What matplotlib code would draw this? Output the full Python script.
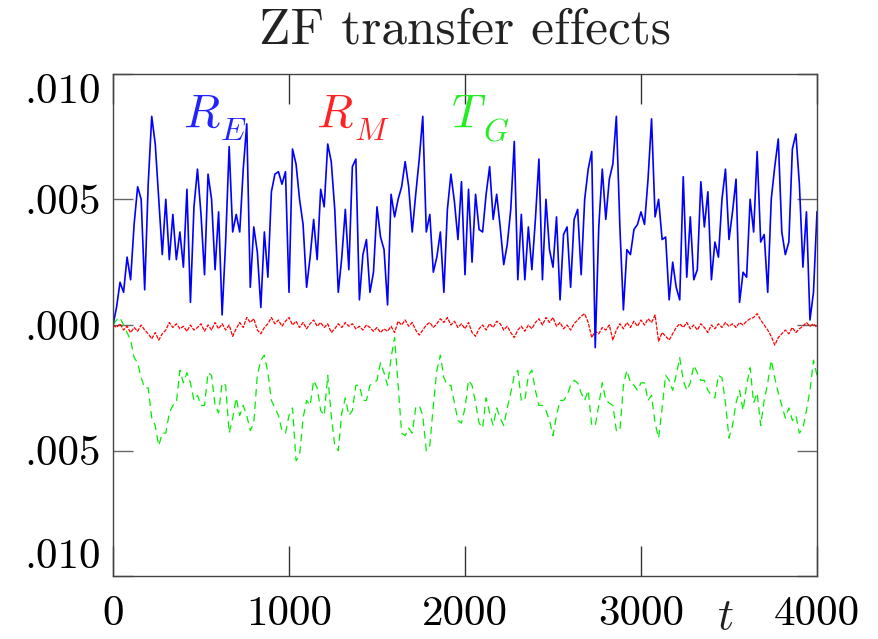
import numpy as np
import matplotlib
matplotlib.use("Agg")
import matplotlib.pyplot as plt

plt.rcParams['mathtext.fontset'] = 'cm'
plt.rcParams['axes.unicode_minus'] = False

# ---- data (values in units of 1e-3), sampled every 20 time units ----
t_start, t_end, t_step = 0, 4000, 20

R_E = [
    0.0, 0.7, 1.7, 1.3, 2.7, 1.8, 4.0, 5.5, 5.0, 1.4,
    5.6, 8.3, 7.2, 5.0, 2.8, 5.0, 2.6, 4.4, 2.6, 3.7,
    2.3, 5.4, 0.9, 4.7, 6.2, 4.4, 2.0, 6.0, 5.0, 2.2,
    4.5, 0.4, 3.3, 7.1, 3.7, 4.4, 3.7, 6.2, 8.0, 1.5,
    3.9, 2.9, 0.7, 3.7, 1.9, 5.3, 6.0, 6.1, 5.6, 6.1,
    1.3, 7.0, 6.4, 5.0, 4.0, 1.5, 2.7, 4.2, 2.6, 5.4,
    4.7, 7.2, 6.5, 4.6, 1.3, 2.7, 4.6, 2.2, 6.3, 6.6,
    1.0, 2.8, 3.4, 1.3, 2.1, 4.7, 3.5, 3.0, 0.8, 5.2,
    4.3, 5.0, 5.5, 6.5, 5.5, 3.7, 5.2, 6.6, 8.3, 3.7,
    4.4, 2.1, 2.7, 3.7, 1.3, 4.6, 6.0, 4.9, 3.4, 5.7,
    2.0, 5.4, 2.5, 5.2, 3.8, 3.7, 5.2, 6.3, 4.2, 5.2,
    3.9, 2.4, 3.2, 4.6, 7.3, 1.8, 4.4, 1.8, 3.9, 2.2,
    4.2, 6.6, 1.8, 5.0, 3.0, 2.3, 4.3, 1.0, 3.6, 3.9,
    1.5, 4.2, 4.6, 2.0, 5.0, 6.2, 6.9, -0.9, 3.9, 6.2,
    4.2, 5.8, 6.4, 8.3, 3.9, 0.6, 3.0, 2.8, 3.8, 4.0,
    4.5, 4.0, 5.8, 8.2, 4.3, 5.0, 3.4, 3.5, 1.0, 2.5,
    1.5, 1.0, 5.9, 1.9, 4.3, 1.8, 2.2, 5.7, 3.9, 5.3,
    1.8, 3.3, 2.7, 5.0, 6.2, 3.4, 4.5, 5.8, 0.9, 2.1,
    1.9, 5.0, 3.7, 6.9, 3.3, 3.6, 1.3, 5.0, 6.3, 7.4,
    3.7, 2.8, 3.3, 7.0, 7.6, 5.6, 2.3, 4.5, 0.2, 1.3,
    4.5,
]

R_M = [
    0.0, -0.1, 0.05, -0.2, -0.05, -0.3, -0.1, -0.25, 0.0, -0.2,
    -0.35, -0.55, -0.3, -0.6, -0.35, -0.2, 0.1, -0.1, 0.05, -0.15,
    -0.05, -0.25, 0.0, -0.2, -0.1, 0.05, -0.25, 0.0, -0.2, 0.1,
    -0.15, 0.05, -0.2, 0.0, -0.45, -0.15, 0.1, -0.1, 0.3, 0.1,
    0.25, -0.2, -0.35, -0.1, 0.05, 0.3, 0.05, 0.2, -0.05, 0.15,
    0.3, 0.0, 0.15, -0.1, 0.1, -0.15, 0.05, 0.2, -0.05, 0.1,
    -0.1, 0.05, -0.3, -0.15, 0.05, -0.1, 0.1, -0.05, 0.05, -0.15,
    -0.05, -0.2, 0.0, -0.1, -0.25, -0.1, -0.3, -0.15, -0.25, -0.05,
    -0.3, 0.15, 0.0, 0.2, -0.05, 0.1, -0.2, -0.4, -0.2, 0.0,
    0.1, -0.1, 0.05, 0.25, 0.1, 0.3, 0.0, 0.15, -0.1, 0.05,
    -0.15, 0.1, -0.3, -0.45, -0.15, 0.0, -0.2, 0.05, -0.1, 0.15,
    0.05, -0.2, -0.05, -0.3, -0.5, -0.2, -0.05, -0.25, 0.0, -0.15,
    0.1, 0.25, 0.0, 0.3, 0.1, 0.3, -0.05, 0.1, -0.15, 0.0,
    -0.2, 0.05, 0.2, 0.35, 0.45, 0.1, -0.5, -0.25, -0.35, -0.1,
    -0.2, 0.0, -0.6, -0.2, 0.05, -0.15, 0.1, -0.1, 0.15, -0.05,
    0.2, 0.0, 0.25, 0.1, 0.4, -0.65, -0.3, -0.45, -0.6, -0.35,
    -0.1, 0.05, -0.1, 0.1, -0.15, 0.0, -0.2, 0.05, -0.1, -0.3,
    0.0, -0.15, 0.05, -0.1, 0.1, -0.05, 0.05, -0.1, 0.1, 0.0,
    0.15, 0.25, 0.3, 0.45, 0.2, 0.0, -0.2, -0.45, -0.8, -0.5,
    -0.35, -0.2, -0.35, -0.1, -0.3, -0.15, -0.05, 0.1, -0.05, 0.05,
    -0.1,
]

T_G = [
    0.0, 0.2, 0.3, 0.0, -0.3, -0.6, -1.3, -1.5, -2.1, -2.5,
    -2.5, -3.7, -4.0, -4.8, -4.3, -4.3, -3.5, -3.2, -3.1, -1.8,
    -2.3, -1.9, -2.3, -3.0, -2.8, -3.2, -3.2, -1.9, -2.0, -3.2,
    -3.5, -2.3, -2.4, -4.3, -3.7, -2.9, -3.6, -3.2, -3.6, -4.2,
    -3.9, -2.0, -1.4, -1.2, -1.9, -3.0, -3.3, -3.6, -4.2, -4.3,
    -3.6, -3.3, -5.4, -5.2, -3.7, -3.0, -3.2, -2.2, -2.5, -3.4,
    -3.6, -2.0, -3.6, -4.8, -5.0, -3.5, -2.9, -3.6, -3.4, -2.4,
    -2.4, -3.0, -3.0, -2.4, -2.3, -2.2, -1.5, -1.9, -2.4, -1.3,
    -0.5, -2.4, -4.3, -4.4, -4.1, -4.3, -3.3, -3.2, -3.6, -5.0,
    -4.8, -3.2, -1.8, -1.2, -2.1, -2.4, -2.4, -3.1, -3.8, -3.9,
    -3.3, -2.2, -2.4, -3.1, -3.9, -4.1, -2.9, -3.5, -4.0, -3.3,
    -3.7, -4.0, -3.3, -2.7, -2.0, -1.8, -3.0, -3.0, -2.0, -1.8,
    -2.6, -3.2, -3.2, -3.4, -3.8, -4.4, -3.6, -3.0, -3.0, -2.8,
    -2.4, -2.2, -2.3, -2.7, -3.0, -2.6, -4.0, -4.0, -3.2, -2.3,
    -3.0, -3.1, -3.2, -4.2, -4.2, -2.4, -1.8, -2.3, -2.4, -2.6,
    -2.3, -2.3, -3.0, -2.8, -3.9, -4.5, -3.3, -2.0, -2.2, -2.6,
    -2.0, -1.3, -2.2, -2.6, -2.3, -1.6, -1.9, -2.2, -2.2, -2.6,
    -2.8, -2.9, -2.0, -2.1, -3.1, -4.5, -4.0, -3.1, -2.6, -3.4,
    -2.4, -1.7, -3.1, -2.7, -4.0, -3.0, -2.3, -1.4, -2.1, -2.7,
    -3.2, -3.7, -3.3, -3.8, -3.6, -4.3, -4.1, -3.4, -2.6, -1.4,
    -2.0,
]

x_ticks = [0, 1000, 2000, 3000, 4000]
x_ticklabels = ['0', '1000', '2000', '3000', '4000']
y_ticks = [-10, -5, 0, 5, 10]
y_ticklabels = ['.010', '.005', '.000', '.005', '.010']

# series labels: main symbol and subscript
label_main = ['R', 'R', 'T']
label_sub = ['E', 'M', 'G']

# ---- plot ----
t = np.arange(t_start, t_end + 1, t_step)

fig = plt.figure(figsize=(8.79, 6.39), dpi=100)
ax = fig.add_axes([113 / 879, 1 - 576.4 / 639, 704 / 879, 502.8 / 639])

ax.plot(t, T_G, color='#00ee00', lw=0.9, dashes=(6, 4))
ax.plot(t, R_M, color='#ff0000', lw=0.9, dashes=(3, 1))
ax.plot(t, R_E, color='#0000ff', lw=1.2)

ax.set_xlim(0, 4000)
ax.set_ylim(-10, 10)

tick_font = dict(family='cmr10', size=31)
ax.set_xticks(x_ticks, x_ticklabels, **tick_font)
ax.set_yticks(y_ticks, y_ticklabels, **tick_font)
ax.tick_params(axis='x', direction='in', length=21.6, width=1.0, color='#333333',
               top=True, bottom=True, pad=14)
ax.tick_params(axis='y', direction='in', length=14.4, width=1.0, color='#666666',
               left=True, right=True, pad=9)
ylabs = ax.get_yticklabels()
ylabs[0].set_va('bottom')
ylabs[-1].set_va('top')

for s in ax.spines.values():
    s.set_color('#444444')
    s.set_linewidth(1.0)

ax.set_title('ZF transfer effects', family='cmr10', fontsize=37,
             color='#222222', pad=22)

main_pos = [(400, 7.9), (1155, 7.9), (1920, 7.9)]
sub_pos = [(610, 7.35), (1370, 7.35), (2100, 7.35)]
label_colors = ['#2222ff', '#ff2222', '#22ee22']
for m, s_, (mx, my), (sx, sy), c in zip(label_main, label_sub, main_pos,
                                        sub_pos, label_colors):
    ax.text(mx, my, '$' + m + '$', color=c, fontsize=34, va='baseline', ha='left')
    ax.text(sx, sy, '$' + s_ + '$', color=c, fontsize=23, va='baseline', ha='left')

ax.text(3430, -0.105, r'$t$', transform=ax.get_xaxis_transform(),
        fontsize=32, va='baseline', ha='left', color='#222222')

fig.savefig('out.png', dpi=100)
